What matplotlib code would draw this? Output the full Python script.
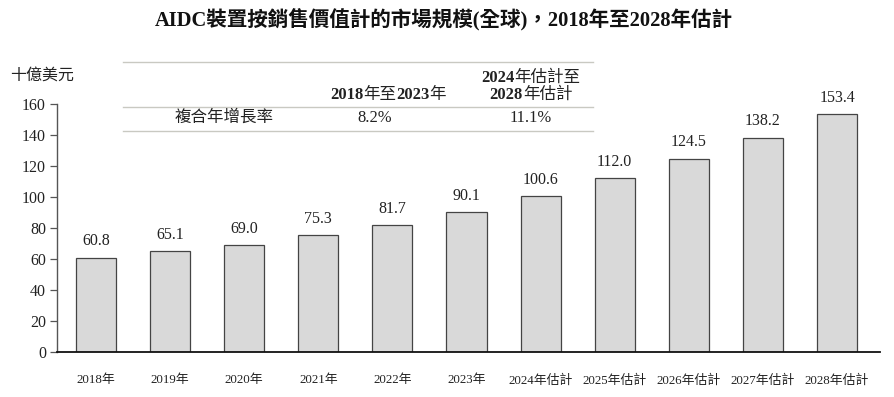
import re
import matplotlib
matplotlib.use("Agg")
import matplotlib.pyplot as plt
from matplotlib.lines import Line2D

plt.rcParams['font.family'] = ['Liberation Serif', 'Noto Sans CJK TC']

categories = ["2018年", "2019年", "2020年", "2021年", "2022年", "2023年",
              "2024年估計", "2025年估計", "2026年估計", "2027年估計", "2028年估計"]
values = [60.8, 65.1, 69.0, 75.3, 81.7, 90.1, 100.6, 112.0, 124.5, 138.2, 153.4]
yticks = [0, 20, 40, 60, 80, 100, 120, 140, 160]
title = "AIDC裝置按銷售價值計的市場規模(全球)，2018年至2028年估計"
unit = "十億美元"
cagr_label = "複合年增長率"
cagr_periods = [["2018年至2023年"], ["2024年估計至", "2028年估計"]]
cagr_values = ["8.2%", "11.1%"]

W, H = 894, 397
fig = plt.figure(figsize=(W/100, H/100), dpi=100)
ax = fig.add_axes([57/W, 1-352/H, (880-57)/W, 248/H])

x = list(range(len(categories)))
ax.bar(x, values, width=0.54, color="#d9d9d9", edgecolor="#444444", linewidth=0.9, zorder=2)
for xi, v in zip(x, values):
    ax.text(xi, v + 5.5, f"{v:.1f}", ha="center", va="bottom", fontsize=11.5, color="#222222")

ax.set_ylim(0, 160)
ax.set_xlim(-0.526, 10.58)
ax.set_yticks(yticks)
ax.set_yticklabels([str(t) for t in yticks], fontsize=11.5, color="#222222")
ax.set_xticks(x)
ax.set_xticklabels(categories, fontsize=9.3, color="#222222")
ax.tick_params(axis="x", length=0, pad=16)
ax.tick_params(axis="y", length=5, width=0.9, direction="out", pad=3, color="#555555")
for s in ["top", "right"]:
    ax.spines[s].set_visible(False)
ax.spines["left"].set_linewidth(1.0)
ax.spines["left"].set_color("#555555")
ax.spines["bottom"].set_linewidth(1.3)
ax.spines["bottom"].set_color("#111111")

fig.text(0.5 - 3/W, 1-19/H, title, ha="center", va="center", fontsize=14.8,
         fontweight="bold", color="#111111")
fig.text(10/W, 1-76/H, unit, ha="left", va="center", fontsize=11.5, color="#222222")

renderer = fig.canvas.get_renderer()


def mixed_text(xc_px, y_px, s, fontsize):
    """Digits bold, other characters regular, centred at xc_px."""
    parts = [p for p in re.split(r"(\d+)", s) if p]
    texts = []
    for p in parts:
        w = "bold" if p.isdigit() else "normal"
        t = fig.text(0, 1 - y_px/H, p, ha="left", va="center", fontsize=fontsize,
                     fontweight=w, color="#222222")
        texts.append(t)
    widths = [t.get_window_extent(renderer).width for t in texts]
    total = sum(widths)
    cur = xc_px - total/2
    for t, wd in zip(texts, widths):
        t.set_x(cur/W)
        cur += wd


# CAGR table
for yy in [62, 107, 131]:
    fig.add_artist(Line2D([123/W, 593/W], [1-yy/H, 1-yy/H], color="#c9c9c2", linewidth=1.0))
col_x = [388, 531]
mixed_text(col_x[0], 95, cagr_periods[0][0], 11.9)
mixed_text(col_x[1], 78, cagr_periods[1][0], 11.9)
mixed_text(col_x[1], 95, cagr_periods[1][1], 11.9)
fig.text(224/W, 1-118/H, cagr_label, ha="center", va="center", fontsize=11.9, color="#222222")
fig.text(375/W, 1-118/H, cagr_values[0], ha="center", va="center", fontsize=11.9, color="#222222")
fig.text(531/W, 1-118/H, cagr_values[1], ha="center", va="center", fontsize=11.9, color="#222222")

fig.savefig("out.png", dpi=100)
